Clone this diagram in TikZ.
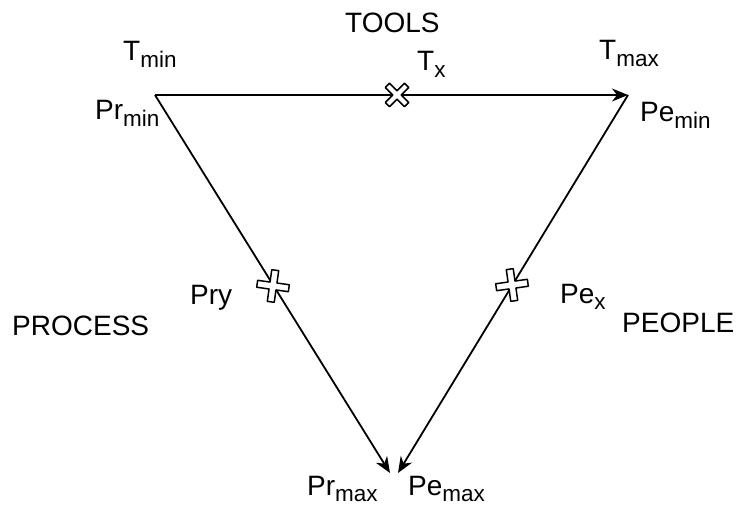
\documentclass[tikz,border=0pt]{standalone}
\usepackage{fontspec}
\setmainfont{Liberation Sans}
\usetikzlibrary{arrows.meta}
\newcommand\sub[1]{\raisebox{-6.5pt}{\fontsize{22.5}{24}\selectfont #1}}

\begin{document}
\begin{tikzpicture}[x=1pt, y=-1pt, >={Stealth[length=16pt, width=13pt, inset=5pt]},
  every node/.style={font=\fontsize{28}{30}\selectfont, inner sep=0pt, anchor=base west},
  side/.style={->, line width=1.8pt},
  xmark/.pic={\draw[line width=1.5pt, fill=white, line join=round]
    (-16,-3.5) -- (-3.5,-3.5) -- (-3.5,-16) -- (3.5,-16) -- (3.5,-3.5) -- (16,-3.5) -- (16,3.5)
    -- (3.5,3.5) -- (3.5,16) -- (-3.5,16) -- (-3.5,3.5) -- (-16,3.5) -- cycle;}]
  \useasboundingbox (0,0) rectangle (738,510);
  % corners of the triangle
  \coordinate (tl) at (155,95);
  \coordinate (tr) at (628,95);
  \coordinate (bl) at (390,473);
  \coordinate (br) at (398,473);
  \draw[side] (tl) -- (tr);
  \draw[side] (tl) -- (bl);
  \draw[side] (tr) -- (br);
  % marks on the sides
  \pic[rotate=45, scale=0.85] (xt) at (397,95) {xmark};
  \pic[rotate=-8] (xpr) at (273,286) {xmark};
  \pic[rotate=8] (xpe) at (512,285) {xmark};
  % labels
  \node (tools) at (345,33) {TOOLS};
  \node (tmin) at (123,61) {T\sub{min}};
  \node (tx) at (417,71) {T\sub{x}};
  \node (tmax) at (599,60) {T\sub{max}};
  \node (prmin) at (95,120) {Pr\sub{min}};
  \node (pemin) at (640,122) {Pe\sub{min}};
  \node (pry) at (190,305) {Pry};
  \node (process) at (12,335) {PROCESS};
  \node (pex) at (560,303) {Pe\sub{x}};
  \node (people) at (622,332) {PEOPLE};
  \node (prmax) at (307,495) {Pr\sub{max}};
  \node (pemax) at (408,495) {Pe\sub{max}};
\end{tikzpicture}
\end{document}
